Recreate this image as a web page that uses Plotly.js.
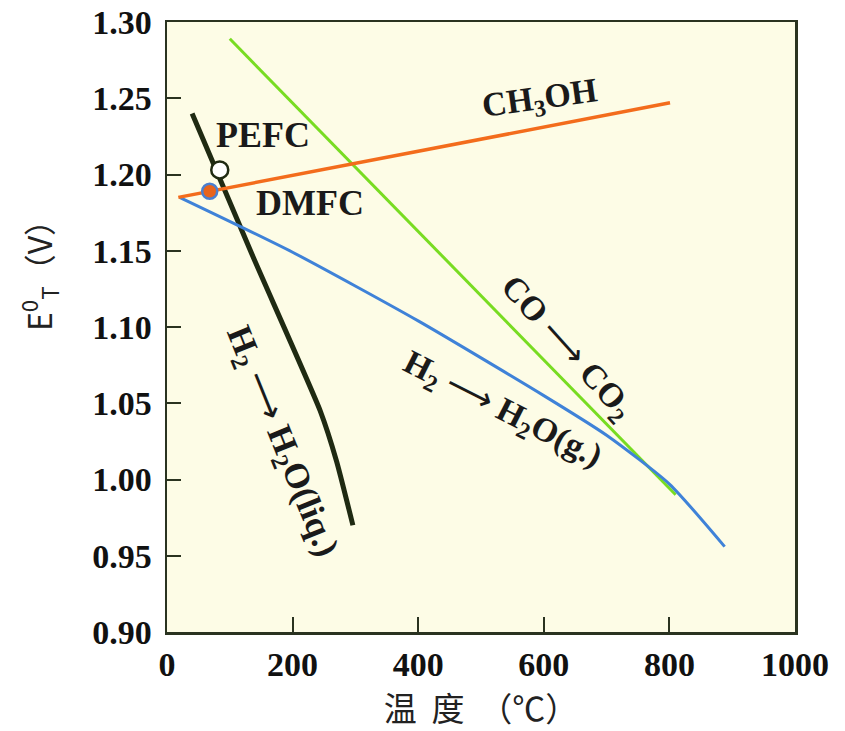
<!DOCTYPE html>
<html>
<head>
<meta charset="utf-8">
<script src="https://cdn.plot.ly/plotly-3.0.1.min.js"></script>
<style>html,body{margin:0;padding:0;background:#fff;}#chart{width:845px;height:731px;}</style>
</head>
<body>
<div id="chart"></div>
<script>
// H2 -> H2O(liq.)
const liqT = [40, 137, 244, 270, 296];
const liqE = [1.240, 1.146, 1.045, 1.012, 0.970];
// CO -> CO2
const coT = [100, 810];
const coE = [1.289, 0.990];
// H2 -> H2O(g.)
const gasT = [20, 200, 400, 600, 700, 800, 888];
const gasE = [1.185, 1.149, 1.104, 1.055, 1.029, 0.997, 0.956];
// CH3OH
const meT = [18, 801];
const meE = [1.185, 1.247];
// operating points
const pefcT = [84], pefcE = [1.203];
const dmfcT = [68], dmfcE = [1.189];
const xTicks = [0, 200, 400, 600, 800, 1000];
const yTicks = [0.90, 0.95, 1.00, 1.05, 1.10, 1.15, 1.20, 1.25, 1.30];

const serif = 'Liberation Serif, Times New Roman, serif';
const arrow = '<span style="font-family:DejaVu Sans;font-weight:normal">⟶</span>';
const traces = [
  {x: liqT, y: liqE, mode: 'lines', line: {color: '#1f2a12', width: 5, shape: 'spline', smoothing: 0.5}, name: 'H2→H2O(liq.)'},
  {x: coT, y: coE, mode: 'lines', line: {color: '#78dc22', width: 3}, name: 'CO→CO2'},
  {x: gasT, y: gasE, mode: 'lines', line: {color: '#3f82d8', width: 3, shape: 'spline', smoothing: 0.6}, name: 'H2→H2O(g.)'},
  {x: meT, y: meE, mode: 'lines', line: {color: '#f36c1c', width: 3.5}, name: 'CH3OH'},
  {x: pefcT, y: pefcE, mode: 'markers', marker: {size: 17, color: '#ffffff', line: {color: '#1f2a12', width: 2.5}}, name: 'PEFC'},
  {x: dmfcT, y: dmfcE, mode: 'markers', marker: {size: 15, color: '#e8641c', line: {color: '#4a7fd0', width: 2.5}}, name: 'DMFC'}
];

const f = s => ({family: serif, size: s, color: '#1a1a1a', weight: 'bold'});
const layout = {
  width: 845, height: 731,
  margin: {l: 167, r: 50, t: 22, b: 99},
  paper_bgcolor: '#ffffff',
  plot_bgcolor: '#fdfce6',
  showlegend: false,
  xaxis: {
    range: [0, 1000], tickvals: xTicks, ticktext: xTicks.map(String),
    showgrid: false, zeroline: false,
    showline: true, mirror: true, linecolor: '#2a3320', linewidth: 2.5,
    ticks: 'inside', ticklen: 15, tickwidth: 2, tickcolor: '#2a3320',
    tickfont: {family: serif, size: 34, color: '#111', weight: 'bold'},
    ticklabelstandoff: 1,
    title: {text: '温\u00a0\u00a0度\u00a0\u00a0（℃）', font: {family: 'Noto Sans CJK SC, sans-serif', size: 33, color: '#222'}, standoff: 8}
  },
  yaxis: {
    range: [0.90, 1.30], tickvals: yTicks, ticktext: yTicks.map(v => v.toFixed(2)),
    showgrid: false, zeroline: false,
    showline: true, mirror: true, linecolor: '#2a3320', linewidth: 2.5,
    ticks: 'inside', ticklen: 14, tickwidth: 2, tickcolor: '#2a3320',
    tickfont: {family: serif, size: 34, color: '#111', weight: 'bold'},
    ticklabelstandoff: 6
  },
  annotations: [
    {xref: 'paper', yref: 'paper', x: -0.205, y: 0.597, xanchor: 'center', yanchor: 'middle',
     text: 'E<sup>0</sup><sub>T</sub>（V）', showarrow: false, textangle: -90,
     font: {family: 'Noto Sans CJK SC, sans-serif', size: 32, color: '#222'}},
    {x: 153, y: 1.226, text: 'PEFC', showarrow: false, font: f(36)},
    {x: 228, y: 1.1813, text: 'DMFC', showarrow: false, font: f(36)},
    {x: 594, y: 1.2489, text: 'CH<sub>3</sub>OH', showarrow: false, font: f(34), textangle: -8},
    {x: 637, y: 1.0862, text: 'CO ' + arrow + ' CO<sub>2</sub>', showarrow: false, font: f(34), textangle: 48},
    {x: 535, y: 1.0456, text: 'H<sub>2</sub> ' + arrow + ' H<sub>2</sub>O(g.)', showarrow: false, font: f(34), textangle: 27},
    {x: 183, y: 1.0246, text: 'H<sub>2</sub> ' + arrow + ' H<sub>2</sub>O(liq.)', showarrow: false, font: f(35), textangle: 68}
  ]
};

Plotly.newPlot('chart', traces, layout, {displayModeBar: false, staticPlot: true});
</script>
</body>
</html>
